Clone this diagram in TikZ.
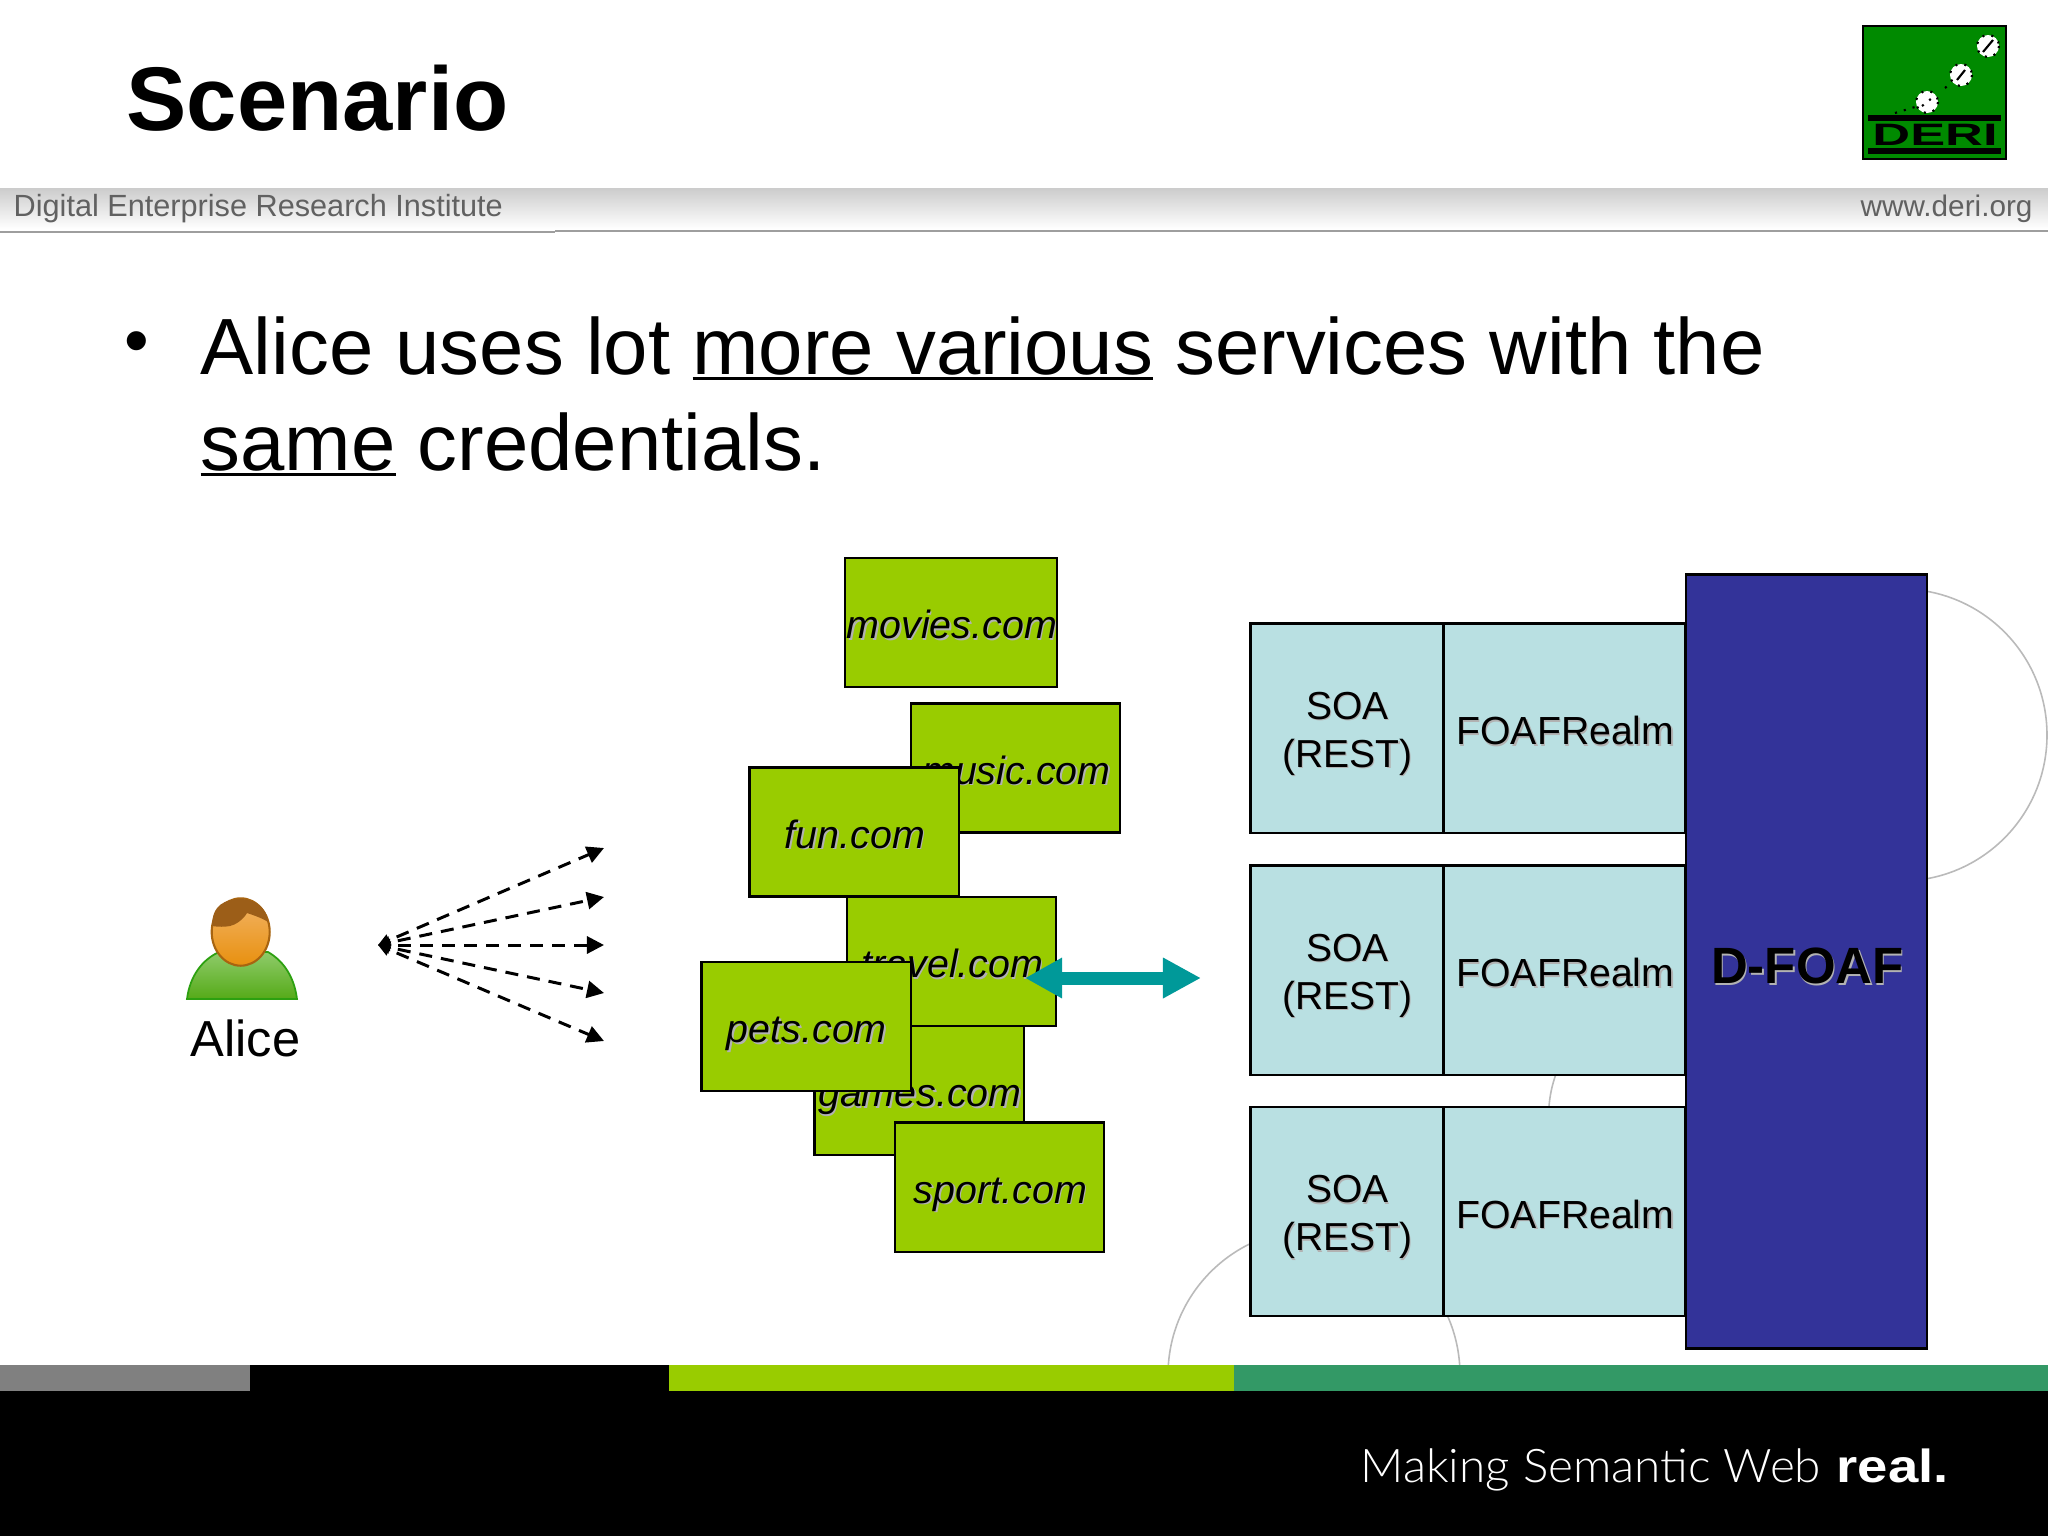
\documentclass[tikz,border=0pt]{standalone}
\usepackage{fontspec}
\usepackage{graphicx}
\setmainfont{Liberation Sans}
\newfontfamily\thinF{Lato Light}
\usetikzlibrary{arrows.meta}
\definecolor{webC}{HTML}{99CC00}
\definecolor{soaC}{HTML}{B9E0E2}
\definecolor{foafC}{HTML}{333399}
\definecolor{linkC}{HTML}{009999}
\definecolor{barG}{HTML}{339966}
\definecolor{logoC}{HTML}{008A00}
\definecolor{bodyT}{HTML}{8FCB6A}
\definecolor{bodyB}{HTML}{55AA18}
\definecolor{bodyL}{HTML}{2CA010}
\definecolor{headT}{HTML}{F2B466}
\definecolor{headB}{HTML}{E8900F}
\definecolor{headL}{HTML}{A86410}
\definecolor{hairC}{HTML}{9C5E18}
\newcommand{\uln}[1]{\leavevmode\setbox0=\hbox{#1}\rlap{\rule[-1.6pt]{\wd0}{0.85pt}}\box0\relax}
\newcommand{\shad}[1]{\leavevmode\hspace*{0.5pt}\rlap{\hspace{0.4pt}\raisebox{-0.4pt}{\textcolor{black!30}{#1}}}#1}
\newcommand{\shadl}[1]{\raisebox{-1.85pt}[\height][\depth]{\shad{#1}}}
\tikzstyle{wS}=[draw,line width=0.6pt,fill=webC,minimum width=2.09cm,minimum height=1.29cm,inner sep=0pt,text height=10pt,text depth=0.7pt,font=\fontsize{11.2}{13}\selectfont\itshape]
\tikzstyle{sS}=[draw,line width=0.6pt,fill=soaC,minimum width=1.92cm,minimum height=2.09cm,inner sep=0pt,align=center,font=\fontsize{11.1}{13.7}\selectfont]
\tikzstyle{fS}=[draw,line width=0.6pt,fill=soaC,minimum width=2.41cm,minimum height=2.09cm,inner sep=0pt,text height=10pt,text depth=0.5pt,font=\fontsize{11.15}{13.7}\selectfont]
\tikzstyle{dS}=[draw,line width=0.8pt,fill=foafC,minimum width=2.41cm,minimum height=7.73cm,inner sep=0pt,text height=12.6pt,text depth=0pt,font=\fontsize{14.5}{16}\selectfont\bfseries]
\tikzstyle{tS}=[inner sep=0pt,anchor=base west]
\tikzstyle{eF}=[line width=0.85pt,dash pattern=on 0.13cm off 0.09cm,dash phase=0.13cm,{Triangle[length=0.12cm,width=0.12cm]}-{Triangle[length=0.17cm,width=0.17cm]}]
\tikzstyle{eL}=[linkC,line width=0.13cm,{Triangle[length=0.37cm,width=0.38cm]}-{Triangle[length=0.38cm,width=0.38cm]}]
\tikzstyle{aS}=[black!27,line width=0.45pt]
\begin{document}
\begin{tikzpicture}[x=0.01cm,y=-0.01cm]
                \useasboundingbox (0,0) rectangle (2048,1536);
                \fill[white] (0,0) rectangle (2048,1536);
                % header
                \shade[top color=black!20,bottom color=white] (0,188) rectangle (2048,229);
                \draw[black!38,line width=0.7pt] (0,232) -- (555,232);
                \draw[black!38,line width=0.7pt] (555,231) -- (2048,231);
                \draw (126,130) node[tS,font=\fontsize{25.7}{30}\selectfont\bfseries] (title) {Scenario};
                \draw (13,216) node[tS,black!62,font=\fontsize{8.72}{10}\selectfont] (inst) {Digital Enterprise Research Institute};
                \draw (1860,216) node[tS,black!62,font=\fontsize{8.45}{10}\selectfont] (site) {www.deri.org};
                % logo
                \draw[line width=0.6pt,fill=logoC] (1863,26) rectangle (2006,159);
                \fill (1868,115) rectangle (2001,121);
                \fill (1868,148) rectangle (2001,154);
                \draw[line width=0.6pt,dotted,fill=white] (1988,46) circle (11);
                \draw[line width=0.6pt,dotted,fill=white] (1961,75) circle (11);
                \draw[line width=0.6pt,dotted,fill=white] (1927,102) circle (11);
                \draw[line width=0.6pt] (1983,52) -- (1993,40);
                \draw[line width=0.6pt] (1957,80) -- (1965,70);
                \draw[line width=0.6pt,dotted] (1922,106) -- (1932,98);
                \draw[line width=0.6pt,dotted] (1895,113) -- (1915,107);
                \draw[line width=0.6pt,dotted] (1945,88) -- (1951,83);
                \draw (1935,145) node[inner sep=0pt,anchor=base,font=\fontsize{8.8}{9}\selectfont\bfseries] (deri) {\resizebox{1.25cm}{\height}{DERI}};
                % bullet
                \draw (124,364) node[tS,font=\fontsize{20}{22}\selectfont] (dot) {\textbullet};
                \draw (200,316) node[inner sep=0pt,anchor=north west,align=left,font=\fontsize{22.67}{27.3}\selectfont] (line) {Alice uses lot \uln{more various} services with the\\\uln{same} credentials.};
                % rings
                \draw[aS] (1901,735) circle (146);
                \draw[aS] (1314,1375) circle (146);
                \draw[aS] (1556,1074) .. controls (1552,1085) and (1550,1095) .. (1549,1106);
                % alice
                \draw[bodyL,line width=0.5pt,top color=bodyT,bottom color=bodyB] (187,999) .. controls (190,975) and (203,960) .. (217,953) -- (268,952) .. controls (282,960) and (294,975) .. (297,999) -- cycle;
                \draw[headL,line width=0.6pt,top color=headT,bottom color=headB] (240.7,932) ellipse (29 and 33.7);
                \fill[hairC] (212,926) .. controls (212,905) and (225,899) .. (241,899) .. controls (255,899) and (267,908) .. (268,922) .. controls (262,918) and (253,915) .. (247,913) .. controls (243,920) and (235,925) .. (230,926) .. controls (225,927) and (218,927) .. (212,926) -- cycle;
                \draw (245.5,1038) node[inner sep=0pt,font=\fontsize{14.4}{16}\selectfont] (alice) {Alice};
                \coordinate (fan) at (378,945);
                \coordinate (t1) at (604,848);
                \coordinate (t2) at (604,897);
                \coordinate (t3) at (604,945);
                \coordinate (t4) at (604,993);
                \coordinate (t5) at (604,1041);
                \path
                    (fan) edge[eF] (t1)
                    (fan) edge[eF] (t2)
                    (fan) edge[eF] (t3)
                    (fan) edge[eF] (t4)
                    (fan) edge[eF] (t5)
                ;
                % sites
                \draw (951,622.5) node[wS] (movies) {\shad{movies.com}};
                \draw (1015.5,768) node[wS] (music) {\shad{music.com}};
                \draw (854,832) node[wS] (fun) {\shad{fun.com}};
                \draw (919,1090.5) node[wS] (games) {\shad{games.com}};
                \draw (951.5,961.5) node[wS] (travel) {\shad{travel.com}};
                \draw (806,1026.5) node[wS] (pets) {\shad{pets.com}};
                \draw (999.5,1187) node[wS] (sport) {\shad{sport.com}};
                % stack
                \draw (1346.5,728) node[sS] (soa1) {\shadl{SOA}\\\shadl{(REST)}};
                \draw (1346.5,970) node[sS] (soa2) {\shadl{SOA}\\\shadl{(REST)}};
                \draw (1346.5,1211.5) node[sS] (soa3) {\shadl{SOA}\\\shadl{(REST)}};
                \draw (1564.5,728) node[fS] (foaf1) {\shad{FOAFRealm}};
                \draw (1564.5,970) node[fS] (foaf2) {\shad{FOAFRealm}};
                \draw (1564.5,1211.5) node[fS] (foaf3) {\shad{FOAFRealm}};
                \draw (1806.5,961.5) node[dS] (dfoaf) {\shad{D-FOAF}};
                \coordinate (lnkL) at (1025,978);
                \coordinate (lnkR) at (1201,978);
                \path
                    (lnkL) edge[eL] (lnkR)
                ;
                % footer
                \fill[black] (0,1391) rectangle (2048,1536);
                \fill[black] (250,1365) rectangle (669,1391);
                \fill[black!50] (0,1365) rectangle (250,1391);
                \fill[webC] (669,1365) rectangle (1234,1391);
                \fill[barG] (1234,1365) rectangle (2048,1391);
                \draw (1360,1482) node[tS,white,font=\fontsize{13.2}{15}\thinF] (slogan) {\resizebox{4.6cm}{\height}{Making Semantic Web}};
                \draw (1836,1482) node[tS,white,font=\fontsize{13.2}{15}\selectfont\bfseries] (real) {\resizebox{1.12cm}{\height}{real.}};
        \end{tikzpicture}
\end{document}
